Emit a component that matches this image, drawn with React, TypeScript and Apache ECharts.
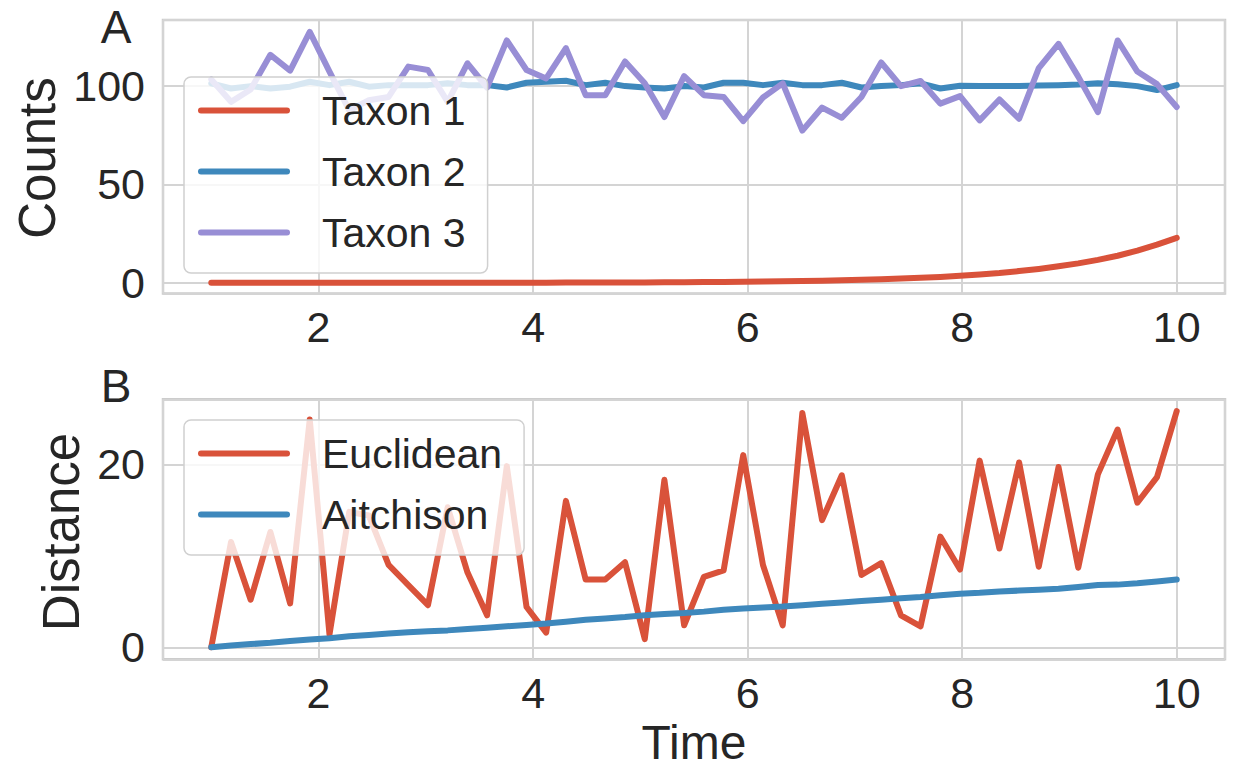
import React, { useEffect, useRef } from 'react';
import * as echarts from 'echarts';

const time = [
  1, 1.184, 1.367, 1.551, 1.735, 1.918, 2.102, 2.286, 2.469, 2.653,
  2.837, 3.02, 3.204, 3.388, 3.571, 3.755, 3.939, 4.122, 4.306, 4.49,
  4.673, 4.857, 5.041, 5.224, 5.408, 5.592, 5.776, 5.959, 6.143, 6.327,
  6.51, 6.694, 6.878, 7.061, 7.245, 7.429, 7.612, 7.796, 7.98, 8.163,
  8.347, 8.531, 8.714, 8.898, 9.082, 9.265, 9.449, 9.633, 9.816, 10,
];

const taxon1 = [
  0.007, 0.008, 0.009, 0.011, 0.013, 0.015, 0.018, 0.02, 0.025, 0.03,
  0.035, 0.04, 0.05, 0.06, 0.07, 0.08, 0.09, 0.11, 0.13, 0.15,
  0.18, 0.21, 0.25, 0.29, 0.34, 0.41, 0.48, 0.57, 0.67, 0.8,
  0.94, 1.1, 1.3, 1.6, 1.8, 2.2, 2.6, 3.0, 3.6, 4.3,
  5.0, 6.0, 7.1, 8.4, 9.9, 11.7, 13.8, 16.4, 19.4, 22.9,
];

const taxon2 = [
  101.4, 98.8, 100.0, 98.8, 99.7, 102.2, 100.5, 102.2, 99.7, 100.5,
  100.5, 100.5, 101.4, 100.5, 100.5, 99.3, 101.7, 102.2, 102.7, 100.5,
  101.7, 100.0, 99.3, 98.8, 100.0, 99.3, 101.7, 101.7, 100.5, 101.7,
  100.5, 100.5, 101.7, 99.3, 100.0, 100.5, 101.4, 98.8, 100.2, 100.0,
  100.0, 100.0, 100.3, 100.5, 100.8, 101.4, 101.0, 100.0, 98.0, 100.5,
];

const taxon3 = [
  103.4, 92.0, 98.3, 115.9, 107.9, 127.6, 107.4, 87.7, 92.8, 94.5,
  109.9, 108.2, 92.0, 111.6, 99.3, 123.2, 108.2, 103.9, 119.3, 95.4,
  95.4, 112.5, 101.4, 84.3, 105.1, 95.4, 94.5, 82.2, 94.2, 101.4,
  77.4, 89.1, 83.9, 94.5, 112.0, 100.0, 102.6, 91.1, 94.9, 82.6,
  93.2, 83.4, 109.1, 121.5, 104.8, 86.8, 123.2, 107.4, 101.0, 89.4,
];

const euclidean = [
  0.0, 11.5, 5.2, 12.6, 4.8, 24.9, 1.4, 14.8, 14.4, 9.0,
  6.8, 4.6, 15.3, 8.2, 3.5, 19.8, 4.4, 1.6, 16.0, 7.4,
  7.4, 9.3, 0.9, 18.3, 2.4, 7.7, 8.4, 21.0, 9.0, 2.4,
  25.6, 13.9, 18.8, 7.9, 9.2, 3.5, 2.3, 12.1, 8.5, 20.4,
  10.8, 20.2, 8.8, 19.7, 8.7, 18.9, 23.8, 15.8, 18.6, 25.8,
];

const aitchison = [
  0.0, 0.2, 0.35, 0.5, 0.7, 0.85, 1.0, 1.2, 1.35, 1.5,
  1.65, 1.75, 1.85, 2.0, 2.15, 2.3, 2.45, 2.6, 2.8, 3.0,
  3.15, 3.3, 3.5, 3.65, 3.75, 3.9, 4.1, 4.25, 4.35, 4.45,
  4.6, 4.75, 4.9, 5.05, 5.2, 5.35, 5.5, 5.7, 5.85, 5.95,
  6.1, 6.2, 6.3, 6.4, 6.6, 6.8, 6.85, 7.0, 7.2, 7.4,
];

const topNames = ['Taxon 1', 'Taxon 2', 'Taxon 3'];
const bottomNames = ['Euclidean', 'Aitchison'];
const RED = '#D9523A';
const BLUE = '#3E88BC';
const PURPLE = '#988ED5';
const FONT = '"Liberation Sans", Arial, sans-serif';
const TEXT = '#262626';
const GRIDC = '#d4d4d4';

export default function App() {
  const ref = useRef<HTMLDivElement>(null);
  useEffect(() => {
    const chart = echarts.init(ref.current!, null, { renderer: 'svg' });
    const pair = (ys: number[]) => time.map((t, i) => [t, ys[i]]);
    const line = (name: string, ys: number[], color: string, idx: number) => ({
      name,
      type: 'line',
      xAxisIndex: idx,
      yAxisIndex: idx,
      data: pair(ys),
      showSymbol: false,
      symbol: 'none',
      color,
      itemStyle: { color },
      lineStyle: { color, width: 6, cap: 'round', join: 'round' },
      emphasis: { disabled: true },
    });
    const xAx = (gridIndex: number) => ({
      type: 'value',
      gridIndex,
      min: 0.55,
      max: 10.45,
      splitNumber: 5,
      axisLine: { show: false },
      axisTick: { show: false },
      axisLabel: {
        fontSize: 43, color: TEXT, fontFamily: FONT, margin: 12,
        showMinLabel: false, showMaxLabel: false,
      },
      splitLine: { lineStyle: { color: GRIDC, width: 2 } },
    });
    const yAx = (gridIndex: number, min: number, max: number, splitNumber: number) => ({
      type: 'value',
      gridIndex,
      min,
      max,
      splitNumber,
      axisLine: { show: false },
      axisTick: { show: false },
      axisLabel: {
        fontSize: 43, color: TEXT, fontFamily: FONT, margin: 18,
        showMinLabel: false, showMaxLabel: false,
      },
      splitLine: { lineStyle: { color: GRIDC, width: 2 } },
    });
    const legendCommon = {
      orient: 'vertical',
      left: 184,
      itemWidth: 92,
      itemHeight: 6,
      itemGap: 20,
      icon: 'path://M3,0 H89 A3,3 0 0 1 89,6 H3 A3,3 0 0 1 3,0 Z',
      padding: [13, 22, 20, 14],
      backgroundColor: 'rgba(255,255,255,0.8)',
      borderColor: '#d0d0d0',
      borderWidth: 1.5,
      borderRadius: 7,
      selectedMode: false,
      textStyle: { fontSize: 41, color: TEXT, fontFamily: FONT, padding: [0, 0, 0, 27] },
      z: 10,
    };
    const option: any = {
      animation: false,
      backgroundColor: '#ffffff',
      grid: [
        { left: 163, top: 20, width: 1062, height: 273.5, show: true, borderColor: '#cccccc', borderWidth: 2.5, backgroundColor: 'transparent' },
        { left: 163, top: 399.3, width: 1062, height: 260, show: true, borderColor: '#cccccc', borderWidth: 2.5, backgroundColor: 'transparent' },
      ],
      xAxis: [xAx(0), xAx(1)],
      yAxis: [yAx(0, -5.4, 133.6, 3), yAx(1, -1.31, 27.1, 1.5)],
      legend: [
        { ...legendCommon, top: 77, data: topNames },
        { ...legendCommon, top: 420, data: bottomNames },
      ],
      series: [
        line(topNames[0], taxon1, RED, 0),
        line(topNames[1], taxon2, BLUE, 0),
        line(topNames[2], taxon3, PURPLE, 0),
        line(bottomNames[0], euclidean, RED, 1),
        line(bottomNames[1], aitchison, BLUE, 1),
      ],
      graphic: [
        { type: 'text', x: 37, y: 158, rotation: Math.PI / 2, style: { text: 'Counts', fontSize: 51, fontFamily: FONT, fill: TEXT, textAlign: 'center', textVerticalAlign: 'middle' } },
        { type: 'text', x: 61, y: 532, rotation: Math.PI / 2, style: { text: 'Distance', fontSize: 51, fontFamily: FONT, fill: TEXT, textAlign: 'center', textVerticalAlign: 'middle' } },
        { type: 'text', x: 694, y: 742, style: { text: 'Time', fontSize: 48, fontFamily: FONT, fill: TEXT, textAlign: 'center', textVerticalAlign: 'middle' } },
        { type: 'text', x: 116, y: 27, style: { text: 'A', fontSize: 46, fontFamily: FONT, fill: TEXT, textAlign: 'center', textVerticalAlign: 'middle' } },
        { type: 'text', x: 116, y: 386, style: { text: 'B', fontSize: 46, fontFamily: FONT, fill: TEXT, textAlign: 'center', textVerticalAlign: 'middle' } },
      ],
    };
    chart.setOption(option);
    return () => chart.dispose();
  }, []);
  return (
    <div
      ref={ref}
      style={{ position: 'fixed', left: 0, top: 0, width: 1233, height: 771, background: '#fff' }}
    />
  );
}
